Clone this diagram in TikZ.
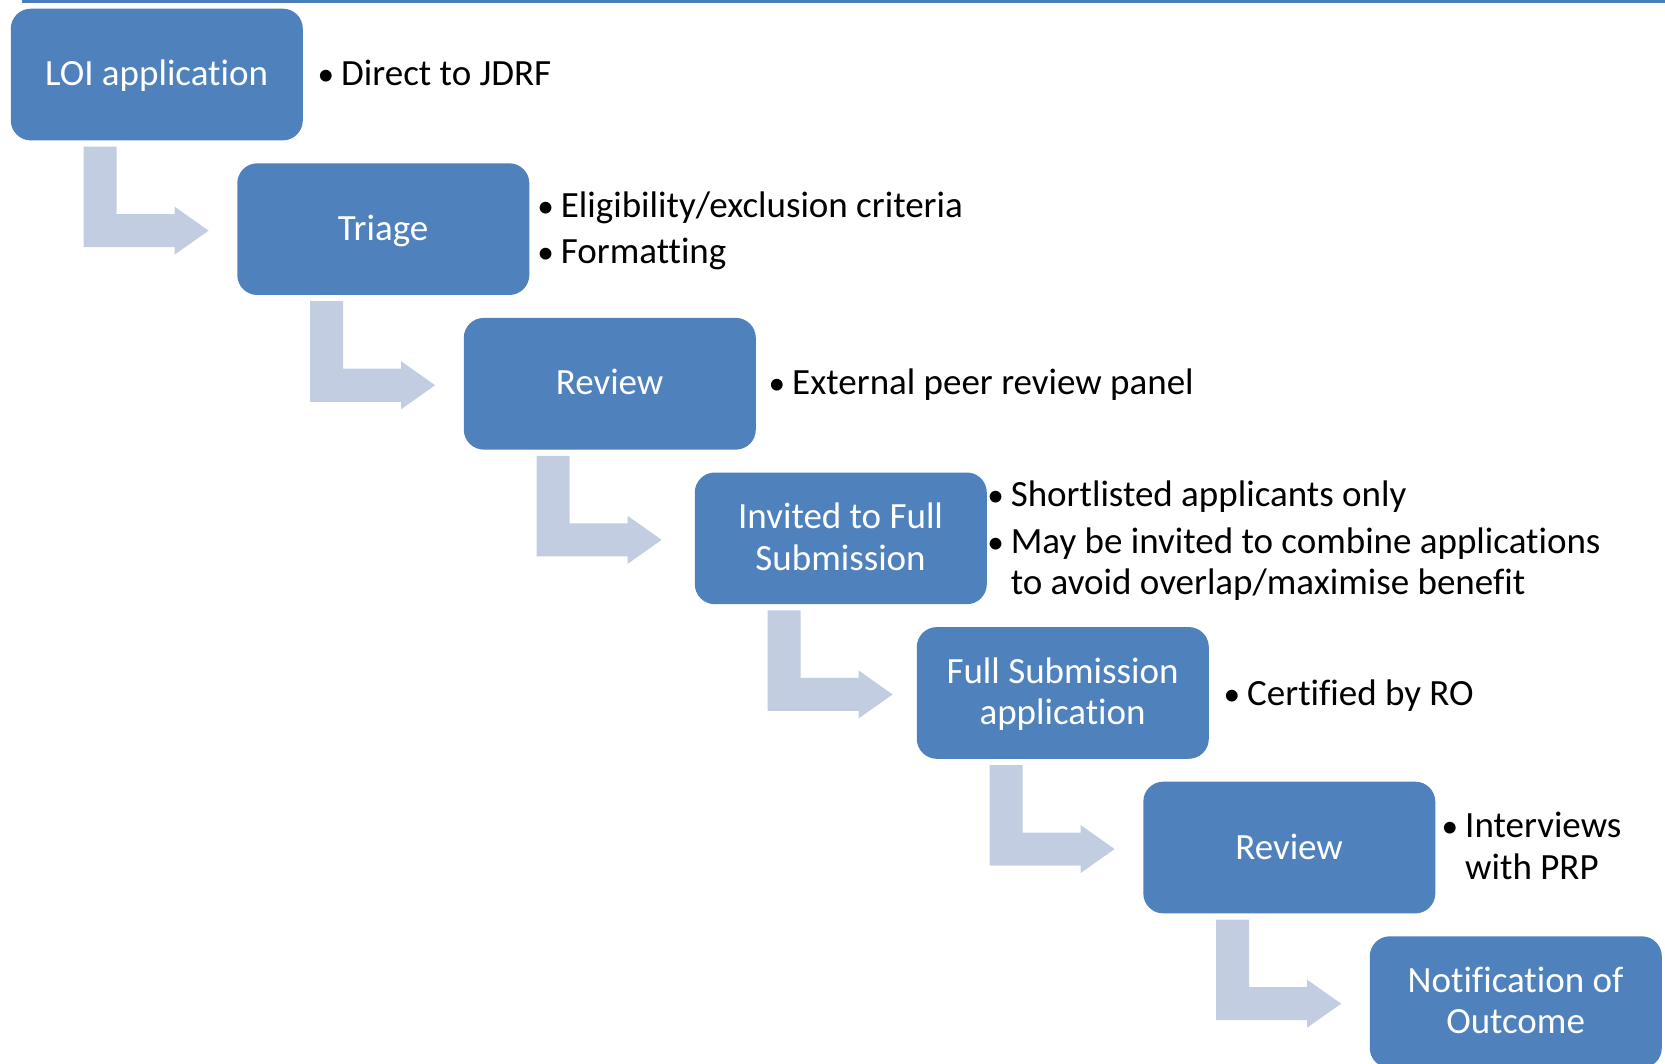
\documentclass[tikz,border=0pt]{standalone}
\usepackage{fontspec}
\setmainfont{Carlito}[RawFeature={-liga;-clig}]
\usetikzlibrary{calc}
\definecolor{boxblue}{HTML}{4F81BD}
\definecolor{arrowc}{HTML}{C3CDE2}
\definecolor{topline}{HTML}{4A7EBB}
\newcommand\bul[1]{\makebox[21pt][l]{\hspace{-2.5pt}\scalebox{0.9}{•}}#1}
\newcommand\bentarr[2]{%
  \fill[arrowc] let \p1=(#1.south west), \p2=(#2.west) in
    (\x1+73pt,\y1-6pt) -- (\x1+106pt,\y1-6pt) -- (\x1+106pt,\y2+15pt)
    -- (\x1+164pt,\y2+15pt) -- (\x1+164pt,\y2+22.5pt) -- (\x1+198pt,\y2-1.5pt)
    -- (\x1+164pt,\y2-25.5pt) -- (\x1+164pt,\y2-18pt) -- (\x1+73pt,\y2-18pt) -- cycle;}
\begin{document}
\begin{tikzpicture}[x=1pt,y=-1pt,
  box/.style={fill=boxblue, rounded corners=20pt, minimum width=292pt,
    minimum height=131.7pt, inner sep=0pt, anchor=north west},
  btext/.style={text=white, font=\fontsize{37}{41}\selectfont, anchor=base, inner sep=0pt},
  ltext/.style={text=black, font=\fontsize{37}{41}\selectfont, anchor=base west, inner sep=0pt}]
\useasboundingbox (0,0) rectangle (1665,1064);
\fill[white] (0,0) rectangle (1665,1064);
\fill[topline] (22,0) rectangle (1665,3.5);
% boxes
\node[box] (b1) at (10.6,8.5) {};
\node[box] (b2) at (237.1,163.1) {};
\node[box] (b3) at (463.6,317.7) {};
\node[box] (b4) at (694.6,472.3) {};
\node[box] (b5) at (916.6,626.9) {};
\node[box] (b6) at (1143.1,781.5) {};
\node[box] (b7) at (1369.6,936.1) {};
% bent arrows
\bentarr{b1}{b2}
\bentarr{b2}{b3}
\bentarr{b3}{b4}
\bentarr{b4}{b5}
\bentarr{b5}{b6}
\bentarr{b6}{b7}
% box texts
\node[btext] (t1) at (156.6,86) {LOI application};
\node[btext] (t2) at (383.1,240.5) {Triage};
\node[btext] (t3) at (609.6,395) {Review};
\node[btext] (t4a) at (840.6,528.5) {Invited to Full};
\node[btext] (t4b) at (840.6,570) {Submission};
\node[btext] (t5a) at (1062.6,683) {Full Submission};
\node[btext] (t5b) at (1062.6,724.5) {application};
\node[btext] (t6) at (1289.1,859) {Review};
\node[btext] (t7a) at (1515.6,992) {Notification of};
\node[btext] (t7b) at (1515.6,1033.5) {Outcome};
% bullet texts
\node[ltext] (l1) at (320,86) {\bul{Direct to JDRF}};
\node[ltext] (l2a) at (539.7,217.5) {\bul{Eligibility/exclusion criteria}};
\node[ltext] (l2b) at (539.7,264) {\bul{Formatting}};
\node[ltext] (l3) at (771,394.5) {\bul{External peer review panel}};
\node[ltext] (l4a) at (989.6,506) {\bul{Shortlisted applicants only}};
\node[ltext] (l4b) at (989.6,553) {\bul{May be invited to combine applications}};
\node[ltext] (l4c) at (1010.6,594.5) {to avoid overlap/maximise benefit};
\node[ltext] (l5) at (1226,705.5) {\bul{Certified by RO}};
\node[ltext] (l6a) at (1444,837.5) {\bul{Interviews}};
\node[ltext] (l6b) at (1465,879) {with PRP};
\end{tikzpicture}
\end{document}
